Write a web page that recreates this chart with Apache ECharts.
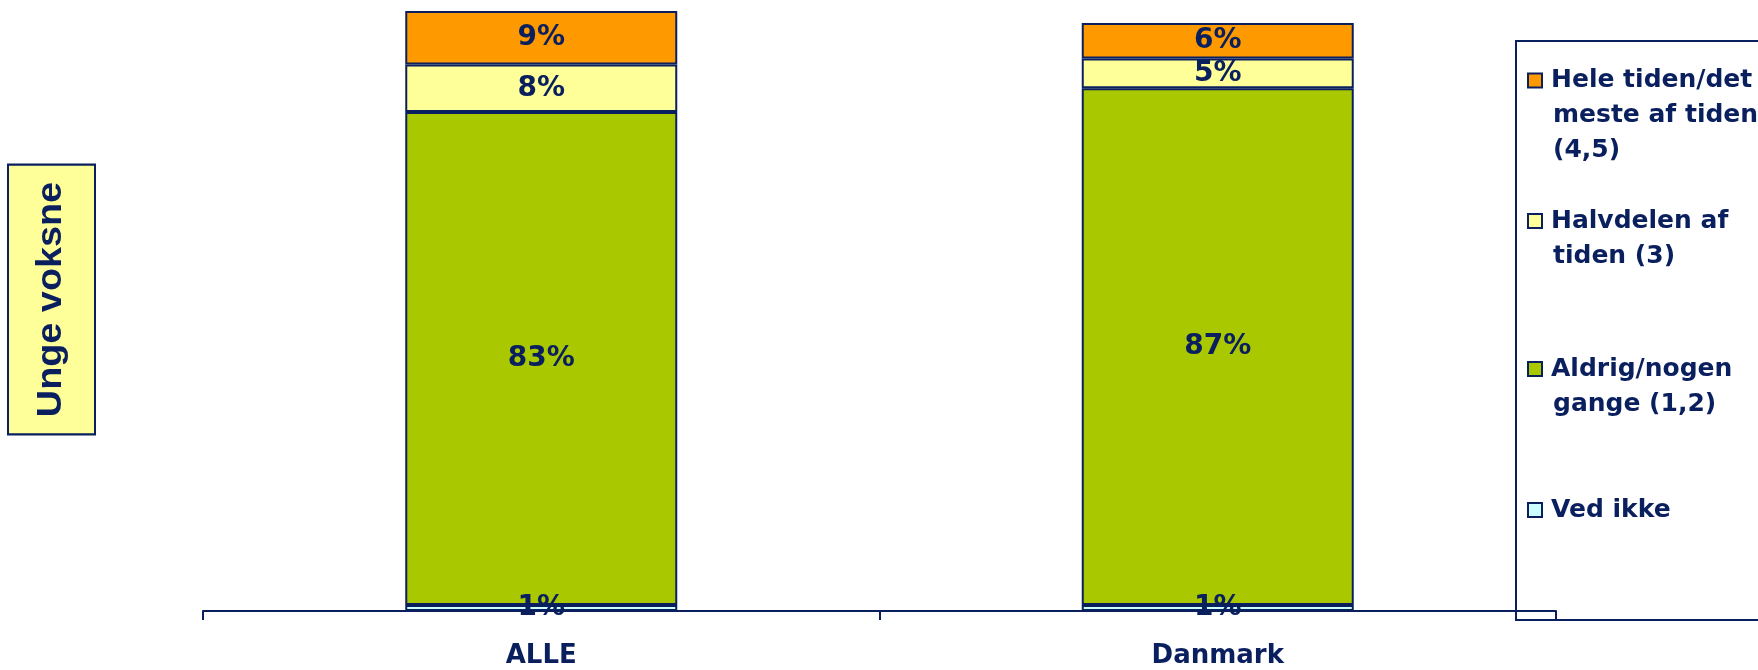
<!DOCTYPE html>
<html>
<head>
<meta charset="utf-8">
<script src="https://cdn.jsdelivr.net/npm/echarts@6/dist/echarts.min.js"></script>
<style>
  html, body { margin: 0; padding: 0; background: #fff; }
  #chart { width: 1758px; height: 670px; }
</style>
</head>
<body>
<div id="chart"></div>
<script>
// data
var categories = ["ALLE", "Danmark"]
var vedIkke = [1, 1]
var aldrig = [83, 87]
var halvdelen = [8, 5]
var heleTiden = [9, 6]
var seriesNames = ["Ved ikke", "Aldrig/nogen gange (1,2)", "Halvdelen af tiden (3)", "Hele tiden/det meste af tiden (4,5)"]
var legendLines = [
	["Ved ikke"],
	["Aldrig/nogen", "gange (1,2)"],
	["Halvdelen af", "tiden (3)"],
	["Hele tiden/det", "meste af tiden", "(4,5)"]
]
var yTitle = "Unge voksne"

var navy = "#0A1F5E"
var colors = ["#CCFFFF", "#AAC800", "#FFFF99", "#FF9900"]
var values = [vedIkke, aldrig, halvdelen, heleTiden]

var chart = echarts.init(document.getElementById("chart"))

var series = seriesNames.map(function(name, i) {
	return {
		name: name,
		type: "bar",
		stack: "total",
		barWidth: 272,
		data: values[i],
		itemStyle: { color: colors[i], borderColor: navy, borderWidth: 2 },
		label: {
			show: true,
			position: "inside",
			formatter: "{c}%",
			color: navy,
			fontFamily: "DejaVu Sans",
			fontWeight: "bold",
			fontSize: 28
		}
	}
})

// legend: one component per entry, the square is drawn in rich text so it
// sits on the first line and the wrapped lines stay indented
var lineH = 35
var firstLineTops = [492.5, 351.5, 203.5, 63]
var legends = seriesNames.map(function(name, i) {
	var rich = {
		sq: { width: 12, height: 12, lineHeight: lineH, backgroundColor: colors[i], borderColor: navy, borderWidth: 2 },
		ind: { width: 14, lineHeight: lineH },
		t: { color: navy, fontFamily: "DejaVu Sans", fontWeight: "bold", fontSize: 25, lineHeight: lineH, padding: [0, 0, 0, 10] }
	}
	return {
		data: [name],
		orient: "vertical",
		left: 1522,
		top: firstLineTops[i],
		padding: 0,
		icon: "rect",
		itemWidth: 1,
		itemHeight: 1,
		itemStyle: { opacity: 0 },
		selectedMode: false,
		formatter: function() {
			return legendLines[i].map(function(s, k) {
				return (k === 0 ? "{sq|}" : "{ind|}") + "{t|" + s + "}"
			}).join("\n")
		},
		textStyle: { color: navy, lineHeight: lineH, rich: rich }
	}
})

var option = {
	animation: false,
	backgroundColor: "#fff",
	grid: { left: 203, right: 202, top: 11, bottom: 59 },
	legend: legends,
	xAxis: {
		type: "category",
		data: categories,
		axisLine: { lineStyle: { color: navy, width: 2 } },
		axisTick: { show: true, length: 9, lineStyle: { color: navy, width: 2 } },
		axisLabel: {
			color: navy,
			fontFamily: "DejaVu Sans",
			fontWeight: "bold",
			fontSize: 26,
			margin: 32
		}
	},
	yAxis: {
		type: "value",
		min: 0,
		max: 101,
		show: false
	},
	graphic: [
		{
			type: "rect",
			shape: { x: 1516, y: 41, width: 300, height: 579 },
			style: { fill: "none", stroke: navy, lineWidth: 2 },
			z: 0
		},
		{
			type: "text",
			x: 51.5,
			y: 299.5,
			rotation: Math.PI / 2,
			scaleX: 1.08,
			style: {
				text: yTitle,
				align: "center",
				verticalAlign: "middle",
				fill: navy,
				fontFamily: "Liberation Sans",
				fontWeight: "bold",
				fontSize: 35,
				lineHeight: 35,
				backgroundColor: "#FFFF99",
				borderColor: navy,
				borderWidth: 2,
				padding: [25, 15, 25, 15]
			}
		}
	],
	series: series
}
chart.setOption(option)
</script>
</body>
</html>
